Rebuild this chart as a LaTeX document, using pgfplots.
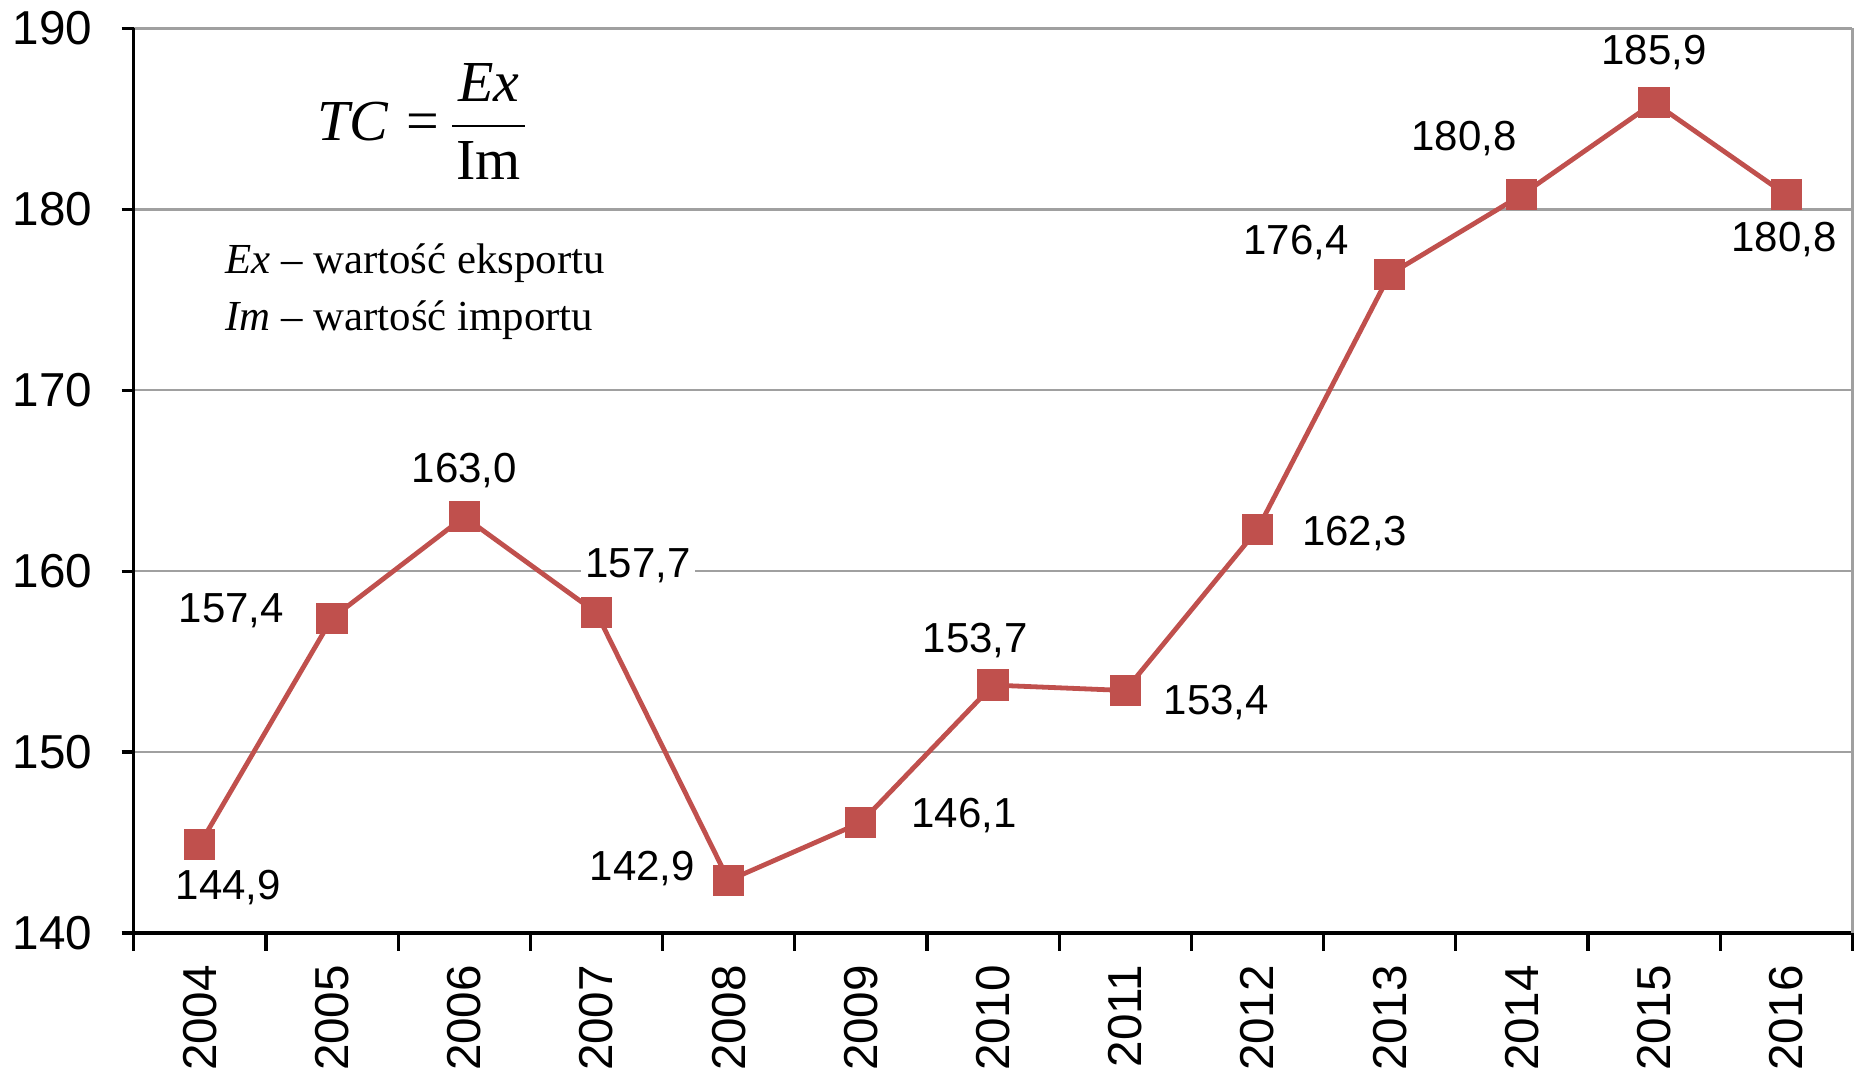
\documentclass[border=0pt]{standalone}
\usepackage{pgfplots}
\pgfplotsset{compat=1.18}
\usepackage{pgfplotstable}
\usepackage{fontspec}
\setmainfont{Liberation Sans}
\newfontfamily\timesfont{Liberation Serif}
\definecolor{serred}{RGB}{192,80,77}
\definecolor{gridgray}{RGB}{160,160,160}
\pgfplotstableread{
x y lab dx dy
0 144.9 144,9 7.1 -10.7
1 157.4 157,4 -25.2 1.8
2 163.0 163,0 0 11.5
3 157.7 157,7 10.4 11.8
4 142.9 142,9 -21.6 3.0
5 146.1 146,1 25.8 1.8
6 153.7 153,7 -4.4 11.2
7 153.4 153,4 22.8 -3.0
8 162.3 162,3 24.3 -0.9
9 176.4 176,4 -23.4 8.0
10 180.8 180,8 -14.5 14.2
11 185.9 185,9 0 12.4
12 180.8 180,8 -0.6 -11.2
}\datatable
\begin{document}
\begin{tikzpicture}
\begin{axis}[
  scale only axis, width=429.6pt, height=226.1pt,
  xmin=-0.5, xmax=12.5, ymin=140, ymax=190,
  ytick={140,150,...,190},
  xtick={0,...,12},
  xticklabels={2004,2005,2006,2007,2008,2009,2010,2011,2012,2013,2014,2015,2016},
  minor xtick={-0.5,0.5,...,12.5},
  major x tick style={draw=none},
  tick align=outside,
  major tick length=3pt,
  minor tick length=4.5pt,
  axis x line*=bottom, axis y line*=left,
  axis line style={black, line width=0.8pt},
  every tick/.style={black, line width=0.8pt},
  ymajorgrids, major grid style={gridgray, line width=0.6pt},
  ticklabel style={font=\fontsize{11.9}{14}\selectfont},
  /pgf/number format/assume math mode=true,
  yticklabel style={xshift=-3.8pt},
  xticklabel style={rotate=90, anchor=east, xshift=-1.5pt},
  clip=false,
  after end axis/.code={
    \draw[gridgray, line width=0.6pt] (rel axis cs:1,0) -- (rel axis cs:1,1);
    \coordinate (bl) at (rel axis cs:-0.0778,-0.153);
    \coordinate (tr) at (rel axis cs:1.0021,1.0314);
  },
]
\addplot[serred, line width=1.2pt, mark=square*, mark size=3.3pt,
  mark options={fill=serred, draw=serred},
  point meta=explicit symbolic,
  nodes near coords,
  visualization depends on={\thisrow{dx} \as \dx},
  visualization depends on={\thisrow{dy} \as \dy},
  every node near coord/.append style={anchor=center, xshift=\dx pt, yshift=\dy pt,
     fill=white, inner sep=1pt, text=black, font=\fontsize{10.5}{12}\selectfont},
] table[x=x, y=y, meta=lab] {\datatable};
\node[font=\timesfont\fontsize{14.5}{17}\selectfont, inner sep=0pt] at (rel axis cs:0.1687,0.897)
  {\textit{TC}\hspace{0.3em}=\hspace{0.15em}$\displaystyle\frac{\mbox{\kern1.5pt\textit{Ex}\kern1.5pt}}{\mbox{Im}}$};
\node[anchor=west, font=\timesfont\fontsize{10.7}{14.2}\selectfont, align=left, inner sep=0pt]
  at (rel axis cs:0.053,0.709) {\textit{Ex} – wartość eksportu\\\textit{Im} – wartość importu};
\end{axis}
\pgfresetboundingbox
\path[use as bounding box] (bl) rectangle (tr);
\end{tikzpicture}
\end{document}
